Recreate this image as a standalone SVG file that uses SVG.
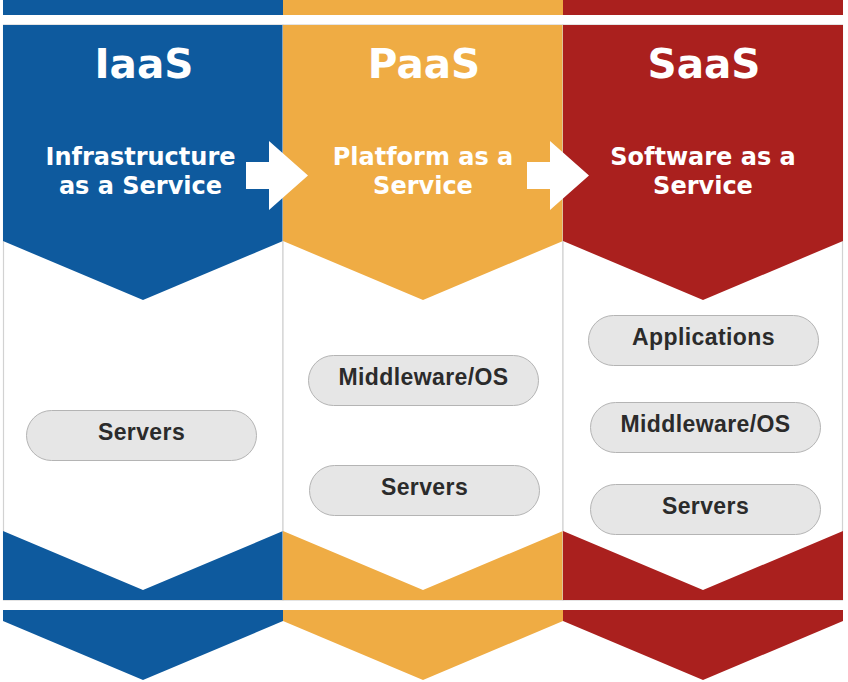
<svg xmlns="http://www.w3.org/2000/svg" width="848" height="682" viewBox="0 0 848 682">
<style>
.body{fill:#ffffff;stroke:#d2d2d2;stroke-width:1.2}
.blue{fill:#0e5a9e}
.orange{fill:#efac44}
.red{fill:#aa201e}
.title{font-family:"DejaVu Sans",Verdana,sans-serif;font-weight:bold;font-size:40.5px;fill:#ffffff;text-anchor:middle}
.sub{font-family:"DejaVu Sans",Verdana,sans-serif;font-weight:bold;font-size:24px;fill:#ffffff;text-anchor:middle}
.pill{fill:#e6e6e6;stroke:#b4b4b4;stroke-width:1}
.pt{font-family:"Liberation Sans",Arial,sans-serif;font-weight:bold;font-size:23px;letter-spacing:0.4px;fill:#2b2b2b;text-anchor:middle}
.arrow{fill:#ffffff}
</style>
<rect width="848" height="682" fill="#ffffff"/>

<g id="iaas">
<rect class="blue" x="3" y="0" width="280" height="15"/>
<rect class="body" x="3.5" y="25" width="279.5" height="575"/>
<polygon class="blue" points="3,25 283,25 283,241 143,300 3,241"/>
<polygon class="blue" points="3,531 143,590 283,531 283,600 3,600"/>
<polygon class="blue" points="3,610 283,610 283,621 143,680 3,621"/>
<text class="title" x="144" y="78">IaaS</text>
<text class="sub" x="140.5" y="165">Infrastructure</text>
<text class="sub" x="140.5" y="193.5">as a Service</text>
</g>

<g id="paas">
<rect class="orange" x="283" y="0" width="280" height="15"/>
<rect class="body" x="283" y="25" width="280" height="575"/>
<polygon class="orange" points="283,25 563,25 563,241 423,300 283,241"/>
<polygon class="orange" points="283,531 423,590 563,531 563,600 283,600"/>
<polygon class="orange" points="283,610 563,610 563,621 423,680 283,621"/>
<text class="title" x="424" y="78">PaaS</text>
<text class="sub" x="423" y="165">Platform as a</text>
<text class="sub" x="423" y="193.5">Service</text>
</g>

<g id="saas">
<rect class="red" x="563" y="0" width="280" height="15"/>
<rect class="body" x="563" y="25" width="279.5" height="575"/>
<polygon class="red" points="563,25 843,25 843,241 703,300 563,241"/>
<polygon class="red" points="563,531 703,590 843,531 843,600 563,600"/>
<polygon class="red" points="563,610 843,610 843,621 703,680 563,621"/>
<text class="title" x="704" y="78">SaaS</text>
<text class="sub" x="703" y="165">Software as a</text>
<text class="sub" x="703" y="193.5">Service</text>
</g>

<g id="iaas-servers">
<rect class="pill" x="26.5" y="410.5" width="230" height="50" rx="25"/>
<text class="pt" x="141.5" y="440">Servers</text>
</g>

<g id="paas-middleware">
<rect class="pill" x="308.5" y="355.5" width="230" height="50" rx="25"/>
<text class="pt" x="423.5" y="384.5">Middleware/OS</text>
</g>
<g id="paas-servers">
<rect class="pill" x="309.5" y="465.5" width="230" height="50" rx="25"/>
<text class="pt" x="424.5" y="495">Servers</text>
</g>

<g id="saas-applications">
<rect class="pill" x="588.5" y="315.5" width="230" height="50" rx="25"/>
<text class="pt" x="703.5" y="344.5">Applications</text>
</g>
<g id="saas-middleware">
<rect class="pill" x="590.5" y="402.5" width="230" height="50" rx="25"/>
<text class="pt" x="705.5" y="431.5">Middleware/OS</text>
</g>
<g id="saas-servers">
<rect class="pill" x="590.5" y="484.5" width="230" height="50" rx="25"/>
<text class="pt" x="705.5" y="513.5">Servers</text>
</g>

<g id="connectors">
<polygon class="arrow" points="246,162 269,162 269,141 308,175.5 269,210 269,189 246,189"/>
<polygon class="arrow" points="527,162 550,162 550,141 589,175.5 550,210 550,189 527,189"/>
</g>
</svg>
